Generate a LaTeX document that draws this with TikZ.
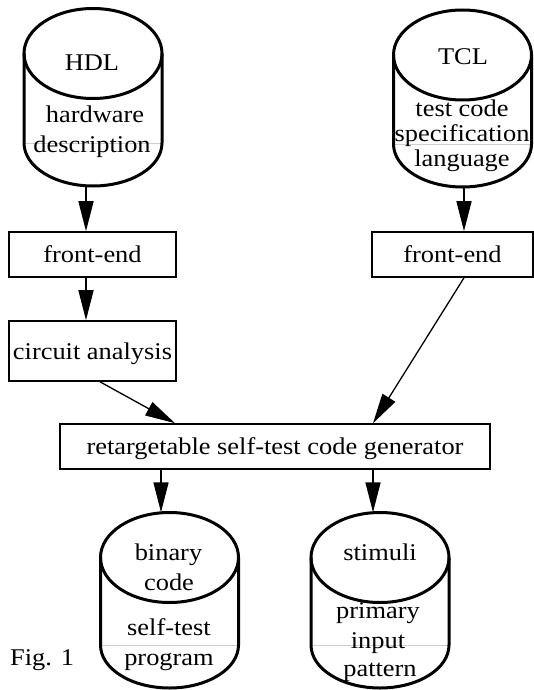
\documentclass[tikz,border=0pt]{standalone}
\usepackage{fontspec}
\setmainfont[FakeStretch=1.1]{Liberation Serif}
\usetikzlibrary{arrows.meta}

\tikzset{
  every node/.style={font=\fontsize{24}{29}\selectfont, inner sep=0pt},
  stepbox/.style={draw, line width=1.6pt, minimum height=45pt,
                  text height=16.5pt, text depth=0pt},
  cylline/.style={line width=3pt},
  cylseam/.style={draw=black!18, line width=0.8pt},
  cylarea/.style={minimum width=138pt, inner sep=0pt},
  flow/.style={line width=1.5pt, -{Triangle[length=30pt,width=15pt]}},
  lbl/.style={anchor=base},
}

% storage cylinder: #1 centre x, #2 centre y of the top ellipse, #3 y where the sides end
\newcommand\storagecyl[3]{%
  \draw[cylline] (#1,#2) ellipse [x radius=69pt, y radius=45pt];
  \draw[cylseam] (#1-69,#3) -- (#1+69,#3);
  \draw[cylline] (#1-69,#2) -- (#1-69,#3)
    arc[start angle=180, end angle=360, x radius=69pt, y radius=43pt]
    -- (#1+69,#2);
}

\begin{document}
\begin{tikzpicture}[x=1pt, y=-1pt]
\useasboundingbox (0,0) rectangle (534,690);

% data stores
\storagecyl{93}{53.5}{143}
\storagecyl{462.5}{55}{144}
\storagecyl{169.5}{557.5}{645}
\storagecyl{380}{557.5}{645}

\node[cylarea, minimum height=177.5pt] (hdl)  at (93,97.25) {};
\node[cylarea, minimum height=177pt]   (tcl)  at (462.5,98.5) {};
\node[cylarea, minimum height=175.5pt] (bin)  at (169.5,600.25) {};
\node[cylarea, minimum height=175.5pt] (stim) at (380,600.25) {};

% store labels
\node[lbl] (hdlA) at (92,71)  {HDL};
\node[lbl] (hdlB) at (95,123) {hardware};
\node[lbl] (hdlC) at (92,152) {description};

\node[lbl] (tclA) at (463,65)  {TCL};
\node[lbl] (tclB) at (462,117) {test code};
\node[lbl] (tclC) at (462,141) {specification};
\node[lbl] (tclD) at (462,166) {language};

\node[lbl] (binA) at (168.5,560) {binary};
\node[lbl] (binB) at (169,590)   {code};
\node[lbl] (binC) at (169,635)   {self-test};
\node[lbl] (binD) at (169,665)   {program};

\node[lbl] (stimA) at (380,560) {stimuli};
\node[lbl] (stimB) at (378,618) {primary};
\node[lbl] (stimC) at (378,648) {input};
\node[lbl] (stimD) at (380,676) {pattern};

% processing steps
\node[stepbox, minimum width=167pt] (fe1) at (92.5,254.5) {front-end};
\node[stepbox, minimum width=167pt, minimum height=60pt] (ca) at (92.5,351) {circuit analysis};
\node[stepbox, minimum width=161pt] (fe2) at (452.5,254.5) {front-end};
\node[stepbox, minimum width=430pt] (gen) at (275,446.5) {retargetable self-test code generator};

% caption
\node[anchor=base west] (fig) at (10,665) {Fig. 1};

% data flow
\draw[flow] ([xshift=-7pt]hdl.south) -- ([xshift=-6.5pt]fe1.north);
\draw[flow] ([xshift=-6.5pt]fe1.south) -- ([xshift=-6.5pt]ca.north);
\draw[flow, line width=1.3pt] ([xshift=7.5pt]ca.south) -- ([xshift=-100pt]gen.north);
\draw[flow] ([xshift=1.5pt]tcl.south) -- ([xshift=11.5pt]fe2.north);
\draw[flow, line width=1.3pt] ([xshift=11.5pt]fe2.south) -- ([xshift=98pt]gen.north);
\draw[flow] ([xshift=-114pt]gen.south) -- ([xshift=-8.5pt]bin.north);
\draw[flow] ([xshift=98pt]gen.south) -- ([xshift=-7pt]stim.north);
\end{tikzpicture}
\end{document}
